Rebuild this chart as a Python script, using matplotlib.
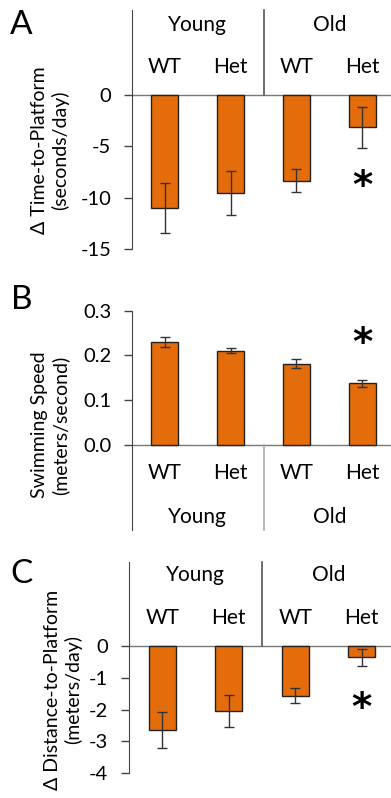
import numpy as np
import matplotlib
matplotlib.use("Agg")
import matplotlib.pyplot as plt

plt.rcParams['font.family'] = ['Lato', 'DejaVu Sans']

genotypes = ['WT', 'Het', 'WT', 'Het']
ages = ['Young', 'Old']

# panel A: change in time-to-platform
time_mean = [-11.0, -9.55, -8.35, -3.15]
time_err = [2.4, 2.15, 1.12, 1.98]

# panel B: swimming speed
speed_mean = [0.231, 0.211, 0.182, 0.138]
speed_err = [0.011, 0.006, 0.011, 0.008]

# panel C: change in distance-to-platform
dist_mean = [-2.64, -2.05, -1.56, -0.36]
dist_err = [0.57, 0.5, 0.23, 0.26]

ORANGE = '#E46C0A'
W, H = 391, 798
FS = 14.5


def px(x0, y0, x1, y1):
    # pixel box -> figure fraction [left, bottom, width, height]
    return [x0 / W, 1 - y1 / H, (x1 - x0) / W, (y1 - y0) / H]


def panel(ax, vals, errs, ylim, ticks, fmt, lab_y, grp_y, star_y, div_color):
    x = np.arange(len(vals))
    ax.bar(x, vals, width=0.41, color=ORANGE, edgecolor='#222222', linewidth=1, zorder=2)
    ax.errorbar(x, vals, yerr=errs, fmt='none', ecolor='#333333', elinewidth=1,
                capsize=3.5, capthick=1, zorder=3)
    ax.set_xlim(-0.5, 3.5)
    ax.set_ylim(*ylim)
    ax.set_yticks(ticks)
    ax.set_yticklabels([fmt % t for t in ticks], fontsize=FS)
    ax.tick_params(axis='y', length=6, width=1, color='#444444', pad=9)
    ax.set_xticks([])
    for s in ['top', 'right', 'bottom']:
        ax.spines[s].set_visible(False)
    ax.spines['left'].set_color('#444444')
    ax.axhline(0, color='#777777', lw=1, zorder=1)
    # divider between young and old
    if lab_y > 0:
        ax.plot([1.5, 1.5], [0, ylim[1]], color=div_color, lw=1.2, clip_on=False)
    else:
        ax.plot([1.5, 1.5], [ylim[0], 0], color=div_color, lw=1.2, clip_on=False)
    for i, g in enumerate(genotypes):
        ax.text(i, lab_y, g, ha='center', va='center', fontsize=FS + 0.5)
    for j, a in enumerate(ages):
        ax.text(0.5 + 2 * j, grp_y, a, ha='center', va='center', fontsize=FS + 0.5)
    ax.text(3, star_y, '*', ha='center', va='center', fontsize=28, fontweight='bold',
            family='DejaVu Sans')


fig = plt.figure(figsize=(W / 100, H / 100), dpi=100)

axA = fig.add_axes(px(132, 10, 395, 249))
panel(axA, time_mean, time_err, (-15, 8.28), [0, -5, -10, -15], '%d',
      2.73, 6.8, -9.0, '#555555')

axB = fig.add_axes(px(132, 310.7, 395, 530))
panel(axB, speed_mean, speed_err, (-0.19, 0.3), [0.0, 0.1, 0.2, 0.3], '%.1f',
      -0.0625, -0.161, 0.226, '#aaaaaa')

axC = fig.add_axes(px(129, 561.7, 395, 773.3))
panel(axC, dist_mean, dist_err, (-4, 2.65), [0, -1, -2, -3, -4], '%d',
      0.88, 2.23, -1.98, '#555555')

fig.text(21 / W, 1 - 25 / H, 'A', fontsize=24, ha='center', va='center')
fig.text(22 / W, 1 - 300 / H, 'B', fontsize=24, ha='center', va='center')
fig.text(22 / W, 1 - 574 / H, 'C', fontsize=24, ha='center', va='center')

fig.text(50 / W, 1 - 150 / H, 'Δ Time-to-Platform\n(seconds/day)', rotation=90,
         ha='center', va='center', multialignment='center', fontsize=14, linespacing=1.2)
fig.text(50 / W, 1 - 425 / H, 'Swimming Speed\n(meters/second)', rotation=90,
         ha='center', va='center', multialignment='center', fontsize=14, linespacing=1.2)
fig.text(63 / W, 1 - 690 / H, 'Δ Distance-to-Platform\n(meters/day)', rotation=90,
         ha='center', va='center', multialignment='center', fontsize=14, linespacing=1.2)

fig.savefig('out.png', dpi=100)
